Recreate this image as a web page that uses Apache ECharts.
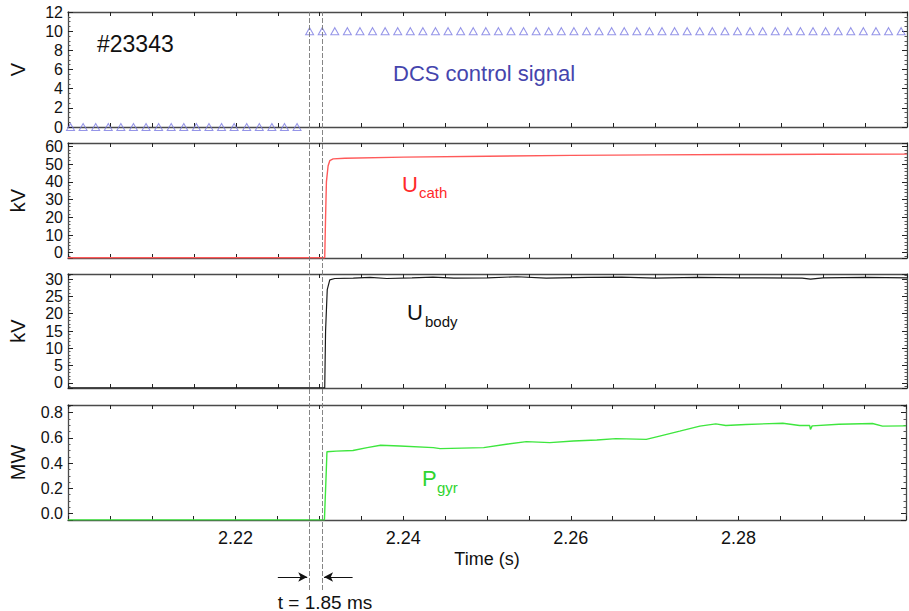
<!DOCTYPE html>
<html>
<head>
<meta charset="utf-8">
<script src="https://cdn.jsdelivr.net/npm/echarts@6/dist/echarts.min.js"></script>
<style>
html,body{margin:0;padding:0;background:#fff;}
#chart{width:909px;height:611px;}
</style>
</head>
<body>
<div id="chart"></div>
<script>
// DCS control signal samples (V)
var dcsTimes = [2.2003, 2.2018, 2.2033, 2.2048, 2.2063, 2.2078, 2.2093, 2.2108, 2.2123, 2.2138,
  2.2153, 2.2168, 2.2183, 2.2198, 2.2213, 2.2228, 2.2243, 2.2258, 2.2273,
  2.2288, 2.2303, 2.2318, 2.2333, 2.2348, 2.2363, 2.2378, 2.2393, 2.2408, 2.2423,
  2.2438, 2.2453, 2.2468, 2.2483, 2.2498, 2.2513, 2.2528, 2.2543, 2.2558, 2.2573,
  2.2588, 2.2603, 2.2618, 2.2633, 2.2648, 2.2663, 2.2678, 2.2693, 2.2708, 2.2723,
  2.2738, 2.2753, 2.2768, 2.2783, 2.2798, 2.2813, 2.2828, 2.2843, 2.2858, 2.2873,
  2.2888, 2.2903, 2.2918, 2.2933, 2.2948, 2.2963, 2.2978, 2.2993];
var dcsValues = [0, 0, 0, 0, 0, 0, 0, 0, 0, 0, 0, 0, 0, 0, 0, 0, 0, 0, 0,
  10, 10, 10, 10, 10, 10, 10, 10, 10, 10, 10, 10, 10, 10, 10, 10, 10, 10, 10, 10,
  10, 10, 10, 10, 10, 10, 10, 10, 10, 10, 10, 10, 10, 10, 10, 10, 10, 10, 10, 10,
  10, 10, 10, 10, 10, 10, 10, 10];

// cathode voltage (kV)
var ucathTimes = [2.2000, 2.2306, 2.2307, 2.2308, 2.2310, 2.2312, 2.2316, 2.2330, 2.2400, 2.2500, 2.2600, 2.2700, 2.2800, 2.2900, 2.3000];
var ucathValues = [-2.9, -2.9, 20, 40, 49, 52, 53, 53.4, 54.0, 54.5, 55.0, 55.3, 55.5, 55.6, 55.7];

// body voltage (kV)
var ubodyTimes = [2.2000, 2.2306, 2.2307, 2.2309, 2.2312, 2.2318, 2.2340, 2.2360, 2.2380, 2.2410, 2.2435, 2.2460, 2.2500, 2.2535,
  2.2570, 2.2620, 2.2660, 2.2700, 2.2750, 2.2800, 2.2875, 2.2885, 2.2900, 2.2950, 2.3000];
var ubodyValues = [-1.45, -1.45, 15, 27, 29.8, 30.2, 30.3, 30.5, 30.2, 30.4, 30.6, 30.3, 30.4, 30.7,
  30.3, 30.5, 30.6, 30.3, 30.5, 30.4, 30.3, 30.0, 30.4, 30.5, 30.4];

// gyrotron power (MW)
var pgyrTimes = [2.2000, 2.2306, 2.2308, 2.2309, 2.2320, 2.2340, 2.2357, 2.2373, 2.2396, 2.2436, 2.2444, 2.2496, 2.2523, 2.2547,
  2.2575, 2.2603, 2.2631, 2.2654, 2.2690, 2.2706, 2.2730, 2.2754, 2.2773, 2.2785, 2.2809, 2.2853, 2.2873,
  2.2885, 2.2886, 2.2888, 2.2920, 2.2960, 2.2972, 2.3000];
var pgyrValues = [-0.049, -0.049, 0.3, 0.49, 0.495, 0.50, 0.523, 0.541, 0.536, 0.523, 0.515, 0.523, 0.549, 0.570,
  0.562, 0.575, 0.583, 0.594, 0.588, 0.614, 0.653, 0.693, 0.711, 0.698, 0.706, 0.716, 0.698,
  0.698, 0.667, 0.695, 0.708, 0.714, 0.693, 0.695];

// vertical marker times (s) and the 1.85 ms arrows
var markerTimes = [2.2288, 2.2304];
var arrowRight = [2.2251, 2.2286];
var arrowLeft = [2.2340, 2.2306];

var xTickLabels = ['2.22', '2.24', '2.26', '2.28'];
var yTickLabels = [
  ['0', '2', '4', '6', '8', '10', '12'],
  ['0', '10', '20', '30', '40', '50', '60'],
  ['0', '5', '10', '15', '20', '25', '30'],
  ['0.0', '0.2', '0.4', '0.6', '0.8']
];

(function(){
  var FONT = 'Liberation Sans, Arial, Helvetica, sans-serif';
  var frame = '#4a4a4a';
  var panels = [
    {top:12, height:115, min:0, max:12, name:'V', minor:4},
    {top:143, height:115, min:-3, max:62, name:'kV', minor:5},
    {top:274, height:114, min:-1.5, max:31.5, name:'kV', minor:5},
    {top:405, height:115, min:-0.05, max:0.86, name:'MW', minor:4}
  ];
  function pairs(ts, vs) { return ts.map(function(t, i){ return [t, vs[i]]; }); }
  function pick(list, v) {
    for (var i = 0; i < list.length; i++) {
      if (Math.abs(parseFloat(list[i]) - v) < 1e-6) return list[i];
    }
    return '';
  }

  var grid = [], xAxis = [], yAxis = [];
  panels.forEach(function(p){
    grid.push({left:67, right:2, top:p.top, height:p.height});
  });
  grid.push({left:67, right:2, top:12, bottom:21});

  // bottom x axes (0-3)
  panels.forEach(function(p, i){
    xAxis.push({
      type:'value', gridIndex:i, position:'bottom', min:2.2, max:2.3, interval:0.005,
      name: i === 3 ? 'Time (s)' : '', nameLocation:'middle', nameGap:30,
      nameTextStyle:{fontFamily:FONT, fontSize:18, color:'#111'},
      axisLine:{onZero:false, lineStyle:{color:frame, width:1.3}},
      axisTick:{inside:true, length:4, lineStyle:{color:'#222'}},
      axisLabel:{show:i === 3, margin:9, fontFamily:FONT, fontSize:18, color:'#111',
        formatter:function(v){ return pick(xTickLabels, v); }},
      splitLine:{show:false}
    });
  });
  // top x axes, ticks only (4-7)
  panels.forEach(function(p, i){
    xAxis.push({
      type:'value', gridIndex:i, position:'top', min:2.2, max:2.3, interval:0.005,
      axisLine:{onZero:false, lineStyle:{color:frame, width:1.3}},
      axisTick:{inside:true, length:4, lineStyle:{color:'#222'}},
      axisLabel:{show:false}, splitLine:{show:false}
    });
  });
  // overlay (8)
  xAxis.push({type:'value', gridIndex:4, min:2.2, max:2.3, show:false});

  // left y axes (0-3)
  panels.forEach(function(p, i){
    yAxis.push({
      type:'value', gridIndex:i, position:'left', min:p.min, max:p.max,
      name:p.name, nameLocation:'middle', nameGap:40, nameRotate:90,
      nameTextStyle:{fontFamily:FONT, fontSize:20, color:'#111'},
      axisLine:{onZero:false, lineStyle:{color:frame, width:1.3}},
      axisTick:{inside:true, length:5, lineStyle:{color:'#222'}},
      minorTick:{show:true, splitNumber:p.minor, length:2.5, lineStyle:{color:'#555'}},
      axisLabel:{margin:5, fontFamily:FONT, fontSize:16, color:'#111',
        formatter:function(v){ return pick(yTickLabels[i], v); }},
      splitLine:{show:false}
    });
  });
  // right y axes, ticks only (4-7)
  panels.forEach(function(p, i){
    yAxis.push({
      type:'value', gridIndex:i, position:'right', min:p.min, max:p.max,
      axisLine:{onZero:false, lineStyle:{color:frame, width:1.3}},
      axisTick:{inside:true, length:5, lineStyle:{color:'#222'}},
      minorTick:{show:true, splitNumber:p.minor, length:2.5, lineStyle:{color:'#555'}},
      axisLabel:{show:false}, splitLine:{show:false}
    });
  });
  // overlay (8)
  yAxis.push({type:'value', gridIndex:4, min:0, max:1, show:false});

  var series = [
    {type:'scatter', xAxisIndex:0, yAxisIndex:0, data:pairs(dcsTimes, dcsValues),
      symbol:'triangle', symbolSize:[8, 7],
      itemStyle:{color:'rgba(255,255,255,0)', borderColor:'#7b7be2', borderWidth:1}},
    {type:'line', xAxisIndex:1, yAxisIndex:1, data:pairs(ucathTimes, ucathValues), showSymbol:false,
      lineStyle:{color:'#ff5a5a', width:1.4}},
    {type:'line', xAxisIndex:2, yAxisIndex:2, data:pairs(ubodyTimes, ubodyValues), showSymbol:false,
      lineStyle:{color:'#1a1a1a', width:1.2}},
    {type:'line', xAxisIndex:3, yAxisIndex:3, data:pairs(pgyrTimes, pgyrValues), showSymbol:false,
      lineStyle:{color:'#3ee63e', width:1.4}},
    {type:'line', xAxisIndex:8, yAxisIndex:8, data:[], silent:true,
      markLine:{silent:true, symbol:['none', 'none'], label:{show:false},
        lineStyle:{color:'#777', width:0.9, type:[5, 2]},
        data:markerTimes.map(function(t){ return [{coord:[t, 0]}, {coord:[t, 1]}]; })}},
    {type:'line', xAxisIndex:8, yAxisIndex:8, data:[], silent:true,
      markLine:{silent:true, symbol:['none', 'arrow'], symbolSize:[7, 9], label:{show:false},
        lineStyle:{color:'#111', width:1, type:'solid'},
        data:[
          [{coord:[arrowRight[0], 0.0225]}, {coord:[arrowRight[1], 0.0225]}],
          [{coord:[arrowLeft[0], 0.0225]}, {coord:[arrowLeft[1], 0.0225]}]
        ]}}
  ];

  function txt(text, x, y, size, color, align) {
    return {type:'text', x:x, y:y, silent:true,
      style:{text:text, fill:color, font:size + 'px ' + FONT, textAlign:align || 'left', textVerticalAlign:'middle'}};
  }
  var graphic = [
    txt('#23343', 97, 44, 23, '#111'),
    txt('DCS control signal', 393, 73, 22, '#4545ad'),
    txt('U', 402, 184, 22, '#ff2a2a'),
    txt('cath', 419, 192, 15, '#ff2a2a'),
    txt('U', 407, 312, 22, '#111'),
    txt('body', 425, 321, 15, '#111'),
    txt('P', 422, 478, 22, '#2fd52f'),
    txt('gyr', 437, 487, 15, '#2fd52f'),
    txt('t = 1.85 ms', 325, 602, 19, '#111', 'center')
  ];

  var el = document.getElementById('chart');
  var c = echarts.init(el, null, {renderer:'svg'});
  c.setOption({
    animation:false,
    backgroundColor:'#fff',
    grid:grid, xAxis:xAxis, yAxis:yAxis, series:series, graphic:graphic
  });
})();
</script>
</body>
</html>
